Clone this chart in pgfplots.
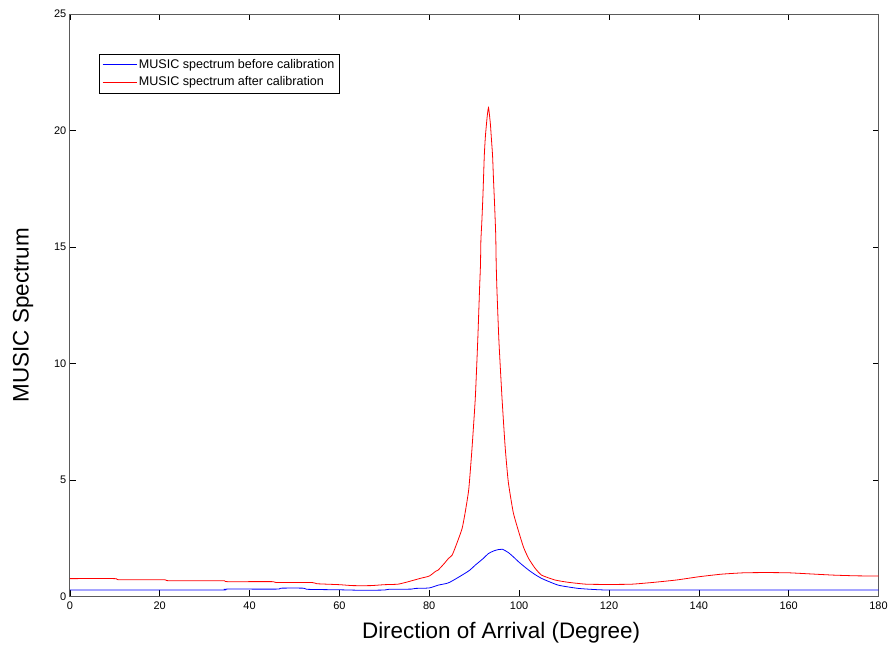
\documentclass[border=0pt]{standalone}
\usepackage{fontspec}
\setmainfont{Liberation Sans}
\usepackage{pgfplots}
\pgfplotsset{compat=1.18}
\begin{document}
\begin{tikzpicture}
\definecolor{axgray}{RGB}{90,90,90}
\begin{axis}[
  scale only axis,
  width=811pt, height=584pt,
  xmin=0, xmax=180, ymin=0, ymax=25,
  xtick={0,20,...,180}, ytick={0,5,...,25},
  tick align=inside,
  major tick length=6pt,
  axis line style={axgray, line width=0.9pt},
  every tick/.style={black, line width=0.6pt},
  tick label style={font=\fontsize{11}{13}\selectfont},
  xticklabel style={yshift=-2pt},
  /pgf/number format/assume math mode=true,
  xlabel={Direction of Arrival (Degree)},
  ylabel={MUSIC Spectrum},
  label style={font=\fontsize{22.5}{26}\selectfont},
  xlabel style={yshift=-6pt, xshift=27pt},
  ylabel style={yshift=14pt, xshift=-10pt},
  legend style={at={(0.036,0.932)}, anchor=north west, line width=0.5pt,
    font=\fontsize{12.6}{14}\selectfont, row sep=1.5pt, inner sep=3pt,
    nodes={inner ysep=2.6pt}},
  legend cell align=left,
  legend image code/.code={\draw[mark repeat=2,mark phase=2,#1,line width=0.8pt] plot coordinates {(0pt,0pt) (17pt,0pt) (34pt,0pt)};},
]
\addplot[blue, line width=0.8pt, smooth, tension=0.4] coordinates {
(0,0.27) (10,0.27) (20,0.27) (34,0.27) (35,0.31) (46,0.31) (47,0.35) (52,0.35) (53,0.30)
(60,0.28) (65,0.26) (70,0.27) (71,0.30) (76,0.31) (77,0.34) (80,0.36) (82,0.48) (84,0.56)
(85.1,0.66) (87.3,0.91) (89,1.12) (90.25,1.34) (92,1.62) (93.2,1.84) (94.5,1.96) (95.5,2.01)
(96.3,2.02) (97.6,1.88) (98.8,1.68) (99.9,1.48) (101,1.30) (102.1,1.13) (103.5,0.94) (105,0.77)
(106.8,0.62) (108.7,0.48) (111,0.40) (113.2,0.34) (116,0.30) (119.8,0.27) (130,0.27) (140,0.27)
(150,0.27) (160,0.27) (170,0.27) (180,0.27)
};
\addlegendentry{MUSIC spectrum before calibration}
\addplot[red, line width=0.8pt, smooth, tension=0.3] coordinates {
(0,0.76) (10,0.76) (11,0.71) (21,0.71) (22,0.67) (34,0.67) (35,0.63) (45,0.63) (46,0.59)
(54,0.59) (55,0.54) (60,0.50) (63,0.46) (67,0.46) (70,0.50) (73,0.52) (75,0.61) (78,0.77)
(80,0.87) (81.4,1.07) (82,1.13) (83.3,1.40) (84.3,1.63) (85.1,1.77) (86,2.2) (87.3,2.9)
(88,3.6) (88.8,4.6) (89.5,6.3) (90.25,8.5) (90.8,11.0) (91.2,13.2) (91.4,14.2) (91.5,15.3)
(91.7,16.05) (91.95,17.2) (92.25,18.9) (92.5,19.75) (92.9,20.6) (93.2,20.98) (93.6,20.3)
(93.8,19.75) (94.1,18.9) (94.3,17.9) (94.56,16.75) (94.8,15.5) (94.9,14.3) (95.06,13.2)
(95.5,11.0) (96.2,8.5) (96.9,6.4) (97.6,4.9) (98.7,3.6) (99.9,2.78) (101,2.1) (102.1,1.63)
(103.5,1.22) (105,0.91) (108,0.70) (111,0.60) (115,0.52) (120,0.51) (125,0.52) (130,0.60)
(135,0.70) (140,0.84) (145,0.95) (150,1.01) (155,1.02) (160,1.01) (165,0.96) (170,0.91)
(175,0.88) (180,0.87)
};
\addlegendentry{MUSIC spectrum after calibration}
\end{axis}
\path (-70pt,-48pt) rectangle (821pt,598pt);
\end{tikzpicture}
\end{document}
